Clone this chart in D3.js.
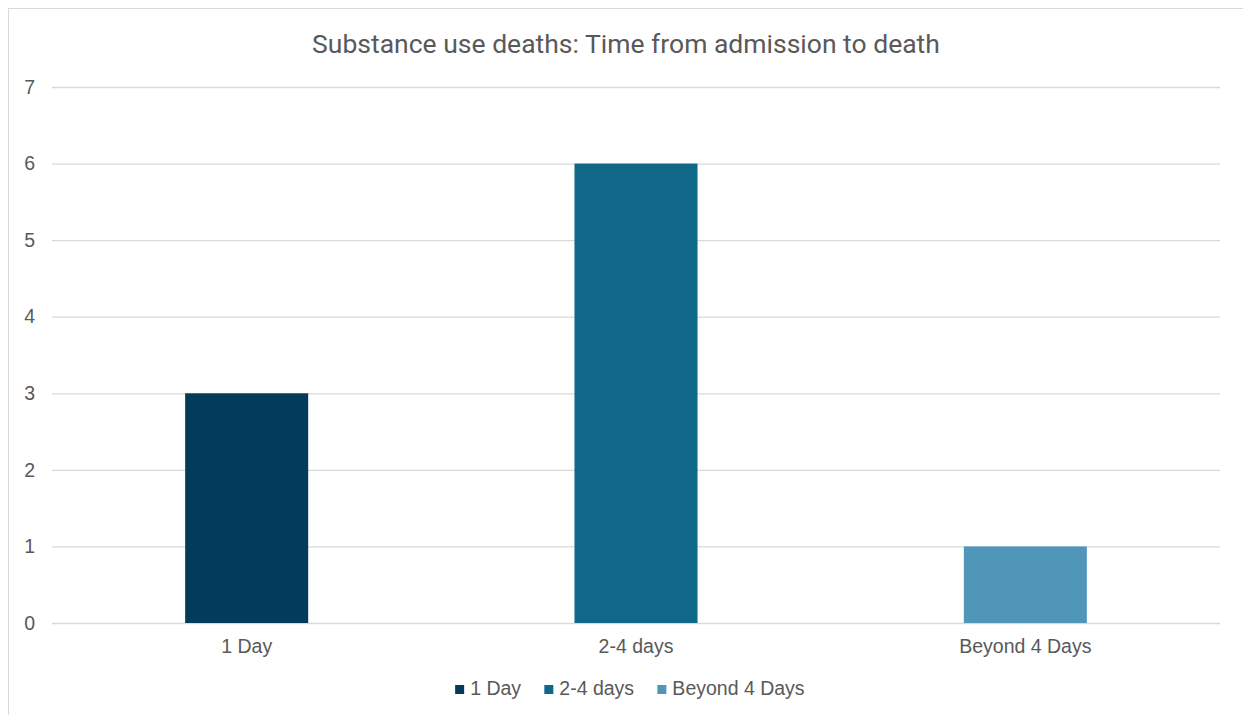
<!DOCTYPE html>
<html>
<head>
<meta charset="utf-8">
<script src="https://cdn.jsdelivr.net/npm/d3@7"></script>
<style>
  html, body { margin: 0; padding: 0; background: #fff; }
  svg { display: block; }
</style>
</head>
<body>
<svg id="chart" width="1243" height="715"></svg>
<script>
// Deaths by time from admission to death
const categories = ["1 Day", "2-4 days", "Beyond 4 Days"];
const deaths = [3, 6, 1];
const barColors = ["#033b5a", "#106888", "#4f96b8"];
const yTicks = [0, 1, 2, 3, 4, 5, 6, 7];
const chartTitle = "Substance use deaths: Time from admission to death";

const svg = d3.select("#chart");
const W = 1243, H = 715;
const plot = { left: 52, right: 1220, top: 87, bottom: 623 };
const labelFont = "'Liberation Sans', Arial, sans-serif";
const labelSize = 19.5;
const textColor = "#595959";

// Outer chart frame
svg.append("rect")
  .attr("x", 8.5).attr("y", 8.5)
  .attr("width", W + 20).attr("height", H + 20)
  .attr("fill", "#fff").attr("stroke", "#d9d9d9").attr("stroke-width", 1);

const x = d3.scaleBand().domain(categories)
  .range([plot.left, plot.right]).paddingInner(0.684).paddingOuter(0.342);
const y = d3.scaleLinear().domain([0, 7]).range([plot.bottom, plot.top]);

// Title
svg.append("text")
  .attr("x", 626).attr("y", 53)
  .attr("text-anchor", "middle")
  .attr("font-family", "Roboto, sans-serif").attr("font-size", 26.5)
  .attr("fill", textColor).text(chartTitle);

// Gridlines + y labels
const yAxis = d3.axisLeft(y).tickValues(yTicks).tickFormat(d3.format("d"))
  .tickSize(-(plot.right - plot.left)).tickPadding(17);
const gy = svg.append("g").attr("transform", `translate(${plot.left},0)`).call(yAxis);
gy.select(".domain").remove();
gy.selectAll(".tick line").attr("stroke", "#d9d9d9").attr("stroke-width", 1.3);
gy.selectAll(".tick text")
  .attr("font-family", labelFont).attr("font-size", labelSize)
  .attr("fill", textColor);

// Bars
svg.append("g").selectAll("rect").data(categories).join("rect")
  .attr("x", d => x(d))
  .attr("y", (d, i) => y(deaths[i]))
  .attr("width", x.bandwidth())
  .attr("height", (d, i) => y(0) - y(deaths[i]))
  .attr("fill", (d, i) => barColors[i]);

// X axis labels
const xAxis = d3.axisBottom(x).tickSize(0).tickPadding(16);
const gx = svg.append("g").attr("transform", `translate(0,${plot.bottom})`).call(xAxis);
gx.select(".domain").remove();
gx.selectAll(".tick text")
  .attr("font-family", labelFont).attr("font-size", labelSize)
  .attr("fill", textColor);

// Legend
const legend = svg.append("g");
const items = legend.selectAll("g").data(categories).join("g");
items.append("rect").attr("width", 9).attr("height", 9).attr("y", -10)
  .attr("fill", (d, i) => barColors[i]);
items.append("text").attr("x", 15).attr("y", 0)
  .attr("font-family", labelFont).attr("font-size", labelSize)
  .attr("fill", textColor).text(d => d);
const widths = [];
items.each(function () { widths.push(this.getBBox().width); });
const gap = 23;
const total = d3.sum(widths) + gap * (widths.length - 1);
let start = 630 - total / 2;
items.attr("transform", (d, i) => {
  const t = `translate(${start},695)`;
  start += widths[i] + gap;
  return t;
});
</script>
</body>
</html>
